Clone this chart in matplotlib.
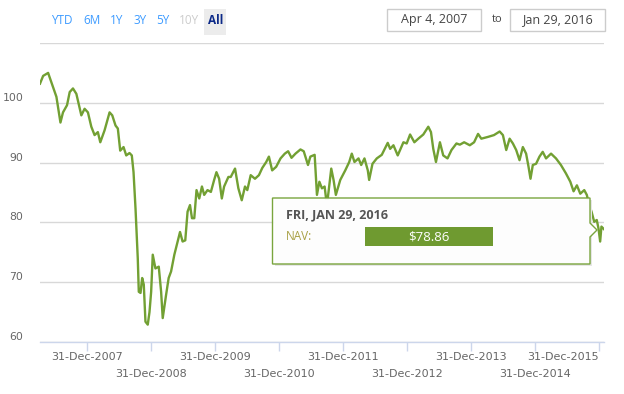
import numpy as np
import pandas as pd
import matplotlib
matplotlib.use('Agg')
import matplotlib.pyplot as plt
from matplotlib.patches import Rectangle, Polygon

# NAV history (decimal year, value)
years = [2007.255, 2007.304, 2007.382, 2007.450, 2007.512, 2007.575, 2007.615, 2007.678, 2007.720, 2007.771,
         2007.824, 2007.902, 2007.953, 2008.005, 2008.058, 2008.109, 2008.160, 2008.198, 2008.265, 2008.343,
         2008.385, 2008.436, 2008.472, 2008.509, 2008.561, 2008.603, 2008.654, 2008.690, 2008.717, 2008.748,
         2008.783, 2008.799, 2008.826, 2008.852, 2008.877, 2008.903, 2008.939, 2008.966, 2008.992, 2009.017,
         2009.059, 2009.111, 2009.148, 2009.173, 2009.226, 2009.266, 2009.304, 2009.355, 2009.407, 2009.444,
         2009.484, 2009.526, 2009.562, 2009.600, 2009.631, 2009.667, 2009.702, 2009.745, 2009.787, 2009.822,
         2009.874, 2009.927, 2009.978, 2010.014, 2010.056, 2010.098, 2010.134, 2010.201, 2010.238, 2010.305,
         2010.357, 2010.410, 2010.461, 2010.497, 2010.550, 2010.617, 2010.679, 2010.731, 2010.793, 2010.835,
         2010.886, 2010.949, 2011.017, 2011.084, 2011.136, 2011.189, 2011.251, 2011.329, 2011.380, 2011.447,
         2011.484, 2011.551, 2011.587, 2011.625, 2011.665, 2011.707, 2011.743, 2011.811, 2011.847, 2011.883,
         2011.952, 2012.030, 2012.092, 2012.132, 2012.174, 2012.237, 2012.279, 2012.330, 2012.382, 2012.403,
         2012.455, 2012.522, 2012.600, 2012.693, 2012.731, 2012.782, 2012.849, 2012.938, 2012.989, 2013.042,
         2013.109, 2013.171, 2013.249, 2013.327, 2013.369, 2013.405, 2013.447, 2013.509, 2013.561, 2013.628,
         2013.690, 2013.768, 2013.821, 2013.888, 2013.977, 2014.044, 2014.106, 2014.157, 2014.262, 2014.355,
         2014.444, 2014.495, 2014.547, 2014.600, 2014.651, 2014.703, 2014.755, 2014.807, 2014.858, 2014.896,
         2014.927, 2014.963, 2015.014, 2015.067, 2015.118, 2015.170, 2015.248, 2015.326, 2015.403, 2015.481,
         2015.550, 2015.601, 2015.653, 2015.706, 2015.768, 2015.808, 2015.846, 2015.882, 2015.924, 2015.964,
         2015.991, 2016.017, 2016.037, 2016.077]
nav = [103.2, 104.5, 105.0, 102.9, 101.0, 96.7, 98.4, 99.6, 101.8, 102.4,
       101.5, 97.9, 99.0, 98.4, 96.0, 94.6, 95.1, 93.4, 95.4, 98.4,
       97.9, 96.2, 95.7, 92.0, 92.6, 91.2, 91.6, 91.2, 88.4, 82.3,
       74.0, 68.4, 68.2, 70.7, 69.6, 63.4, 62.9, 65.0, 68.4, 74.6,
       72.3, 72.6, 68.4, 64.0, 67.9, 70.7, 71.8, 74.6, 76.8, 78.4,
       76.8, 77.0, 81.8, 82.9, 80.7, 80.7, 85.4, 84.0, 86.0, 84.6,
       85.4, 85.1, 87.1, 88.4, 87.3, 84.0, 86.0, 87.6, 87.6, 89.0,
       85.7, 83.7, 86.0, 85.4, 87.9, 87.3, 87.9, 89.1, 90.1, 91.0,
       88.7, 89.3, 90.7, 91.5, 91.9, 90.8, 91.5, 92.2, 91.9, 89.6,
       91.0, 91.3, 84.6, 86.8, 85.7, 86.0, 82.8, 89.0, 87.1, 84.6,
       87.1, 88.7, 90.1, 91.5, 90.1, 90.7, 89.6, 90.7, 88.7, 87.1,
       89.8, 90.7, 91.3, 93.3, 92.3, 92.9, 91.2, 93.4, 93.2, 94.7,
       93.4, 94.0, 94.7, 96.0, 95.1, 92.3, 90.1, 93.4, 91.2, 90.7,
       92.1, 93.2, 93.0, 93.4, 92.9, 93.4, 94.8, 94.0, 94.3, 94.6,
       95.2, 94.6, 92.1, 94.0, 93.2, 92.1, 90.4, 92.6, 91.5, 89.3,
       87.3, 89.6, 89.8, 91.0, 91.8, 90.7, 91.5, 90.7, 89.6, 88.2,
       86.8, 85.2, 86.2, 84.8, 85.4, 84.6, 82.9, 81.8, 80.1, 80.4,
       79.0, 76.8, 79.3, 78.86]

tick_years = [2007, 2008, 2009, 2010, 2011, 2012, 2013, 2014, 2015]
y_ticks = [60, 70, 80, 90, 100, 110]
buttons = ['YTD', '6M', '1Y', '3Y', '5Y', '10Y', 'All']

GREEN = '#72a033'
FONT = 'Open Sans'
AXFONT = 'DejaVu Sans'


def to_date(y):
    yr = int(y)
    start = pd.Timestamp(yr, 1, 1)
    days = (pd.Timestamp(yr + 1, 1, 1) - start).days
    return start + pd.Timedelta(days=(y - yr) * days)


dates = [to_date(y) for y in years]

fig = plt.figure(figsize=(6.24, 3.94), dpi=100)
ax = fig.add_axes([40 / 624, 1 - 342 / 394, 564 / 624, 299 / 394])

ax.plot(dates, nav, color=GREEN, lw=1.7, solid_joinstyle='round', zorder=3)

ax.set_xlim(dates[0], dates[-1])
ax.set_ylim(60, 110)

for s in ['top', 'right', 'left']:
    ax.spines[s].set_visible(False)
ax.spines['bottom'].set_color('#ccd6eb')
ax.spines['bottom'].set_linewidth(1)

ax.set_yticks(y_ticks)
ax.set_yticklabels([str(v) if v < 110 else '' for v in y_ticks])
ax.yaxis.grid(True, color='#d8d8d8', lw=1)
ax.tick_params(axis='y', length=0, pad=12, labelsize=7.8, labelcolor='#666666')
for lbl in ax.get_yticklabels():
    lbl.set_fontfamily(AXFONT)
    lbl.set_verticalalignment('bottom')

# odd years on the upper row (major), even years on the lower row (minor)
dec31 = [pd.Timestamp(y, 12, 31) for y in tick_years]
major = [d for d in dec31 if d.year % 2 == 1]
minor = [d for d in dec31 if d.year % 2 == 0]
ax.set_xticks(major)
ax.set_xticks(minor, minor=True)
ax.set_xticklabels([f'{d:%d-%b-%Y}' for d in major])
ax.set_xticklabels([f'{d:%d-%b-%Y}' for d in minor], minor=True)
ax.tick_params(axis='x', which='both', length=6.5, width=1, color='#ccd6eb',
               labelsize=8, labelcolor='#666666')
ax.tick_params(axis='x', which='major', pad=1)
ax.tick_params(axis='x', which='minor', pad=13)
for lbl in ax.get_xticklabels(which='both'):
    lbl.set_fontfamily(AXFONT)
# keep the last label inside the chart
ax.get_xticklabels()[-1].set_horizontalalignment('right')

# range selector buttons
btn_x = [62, 92, 116.5, 140, 162.5, 189, 215.5]
fig.patches.append(Rectangle((204 / 624, 1 - 35 / 394), 22 / 624, 26 / 394,
                             transform=fig.transFigure, facecolor='#ececec', edgecolor='none'))
for b, bx in zip(buttons, btn_x):
    col = '#3d9bff'
    wt = 'normal'
    if b == '10Y':
        col = '#cccccc'
    if b == 'All':
        col = '#0d2a88'
        wt = 'bold'
    fig.text(bx / 624, 1 - 21 / 394, b, ha='center', va='center', fontsize=8.5,
             color=col, fontweight=wt, family=FONT)

# date range inputs
d0, d1 = dates[0], dates[-1]
for (x0, x1), d in zip([(387, 481), (510, 605)], [d0, d1]):
    fig.patches.append(Rectangle((x0 / 624, 1 - 31 / 394), (x1 - x0) / 624, 22 / 394,
                                 transform=fig.transFigure, facecolor='white',
                                 edgecolor='#cccccc', lw=1))
    fig.text((x0 + x1) / 2 / 624, 1 - 20 / 394, f'{d:%b} {d.day}, {d.year}', ha='center',
             va='center', fontsize=9, color='#444444', family=FONT)
fig.text(497.5 / 624, 1 - 20 / 394, 'to', ha='center', va='center', fontsize=8,
         color='#444444', family=FONT)

# tooltip for the last point
tx0, tx1, ty0, ty1 = 272.5, 590, 198, 264
fig.patches.append(Rectangle(((tx0 + 2) / 624, 1 - (ty1 + 2) / 394), (tx1 - tx0) / 624, (ty1 - ty0) / 394,
                             transform=fig.transFigure, facecolor='#e6e6e6', edgecolor='none',
                             zorder=5))
fig.patches.append(Polygon([(tx0 / 624, 1 - ty0 / 394), (tx1 / 624, 1 - ty0 / 394),
                            (tx1 / 624, 1 - 223 / 394), (597 / 624, 1 - 230 / 394),
                            (tx1 / 624, 1 - 237 / 394), (tx1 / 624, 1 - ty1 / 394),
                            (tx0 / 624, 1 - ty1 / 394)], closed=True,
                           transform=fig.transFigure, facecolor='white', edgecolor=GREEN,
                           lw=1, zorder=6, alpha=0.95))
fig.patches.append(Rectangle((365 / 624, 1 - 246 / 394), 128 / 624, 19 / 394,
                             transform=fig.transFigure, facecolor='#6f9a30', edgecolor='none',
                             zorder=7))
fig.text(286 / 624, 1 - 215 / 394, d1.strftime('%a, %b %d, %Y').upper(), ha='left', va='center',
         fontsize=9, fontweight='bold', color='#555555', family=FONT, zorder=8)
fig.text(286 / 624, 1 - 236 / 394, 'NAV:', ha='left', va='center', fontsize=8.5,
         color='#a8a044', family=FONT, zorder=8)
fig.text(429 / 624, 1 - 236.5 / 394, f'${nav[-1]:.2f}', ha='center', va='center', fontsize=9.5,
         color='white', family=FONT, zorder=8)

fig.savefig('out.png', dpi=100, facecolor='white')
